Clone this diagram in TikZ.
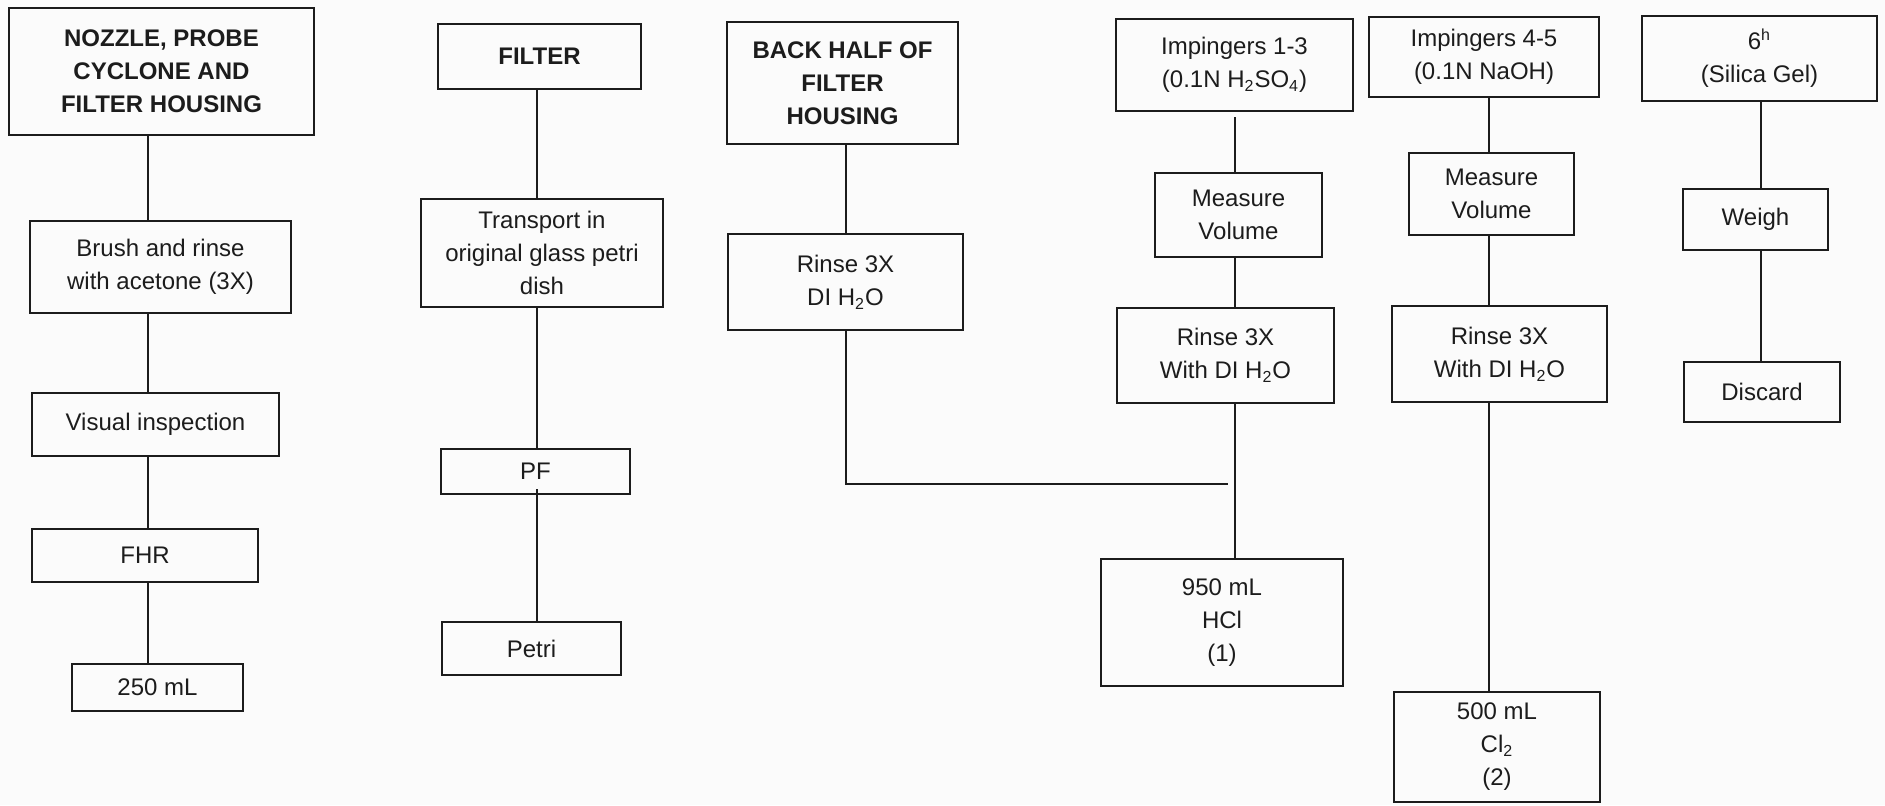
\documentclass[tikz,border=0pt]{standalone}
\usepackage{fontspec}
\setmainfont{Liberation Sans}
\definecolor{ink}{RGB}{28,28,28}
\definecolor{paper}{RGB}{251,251,251}
\begin{document}
\begin{tikzpicture}[x=0.5pt,y=-0.5pt,
  box/.style={draw=ink, line width=1.35pt, inner sep=0pt, align=center,
              text=ink, font=\fontsize{12}{16.5}\selectfont},
  head/.style={box, font=\fontsize{12}{16.5}\selectfont\bfseries},
  link/.style={draw=ink, line width=0.65pt},
  heavylink/.style={draw=ink, line width=1.05pt}]
\fill[paper] (0,0) rectangle (1885,805);
\useasboundingbox (0,0) rectangle (1885,805);

% column axes for the vertical connectors
\coordinate (c1) at (148,0);
\coordinate (c2) at (537,0);
\coordinate (c3) at (846,0);
\coordinate (c4) at (1235,0);
\coordinate (c5) at (1489,0);
\coordinate (c6) at (1761,0);
\coordinate (join) at (1228,484);

% nozzle, probe, cyclone and filter housing
\node[head, minimum width=152.5pt, minimum height=63.5pt] (nozzle) at (161.5,71.5) {NOZZLE, PROBE\\CYCLONE AND\\FILTER HOUSING};
\node[box, minimum width=130.5pt, minimum height=46pt] (brush) at (160.5,267) {Brush and rinse\\with acetone (3X)};
\node[box, minimum width=123.5pt, minimum height=31.5pt] (visual) at (155.5,424.5) {Visual inspection};
\node[box, minimum width=113pt, minimum height=26.5pt] (fhr) at (145,555.5) {FHR};
\node[box, minimum width=85.5pt, minimum height=23.5pt] (ml250) at (157.5,687.5) {250 mL};

% filter
\node[head, minimum width=101.5pt, minimum height=32.5pt] (filter) at (539.5,56.5) {FILTER};
\node[box, minimum width=121pt, minimum height=54pt] (transport) at (542,253) {Transport in\\original glass petri\\dish};
\node[box, minimum width=94.5pt, minimum height=22.5pt] (pf) at (535.5,471.5) {PF};
\node[box, minimum width=89.5pt, minimum height=26.5pt] (petri) at (531.5,648.5) {Petri};

% back half of filter housing
\node[head, minimum width=115.5pt, minimum height=61pt] (backhalf) at (842.5,83) {BACK HALF OF\\FILTER\\HOUSING};
\node[box, minimum width=117.5pt, minimum height=48pt] (rinsedi) at (845.5,282) {Rinse 3X\\DI H\textsubscript{2}O};

% impingers 1-3
\node[box, minimum width=118.5pt, minimum height=46pt] (imp13) at (1234.5,65) {Impingers 1-3\\(0.1N H\textsubscript{2}SO\textsubscript{4})};
\node[box, minimum width=83.5pt, minimum height=42pt] (meas1) at (1238.5,215) {Measure\\Volume};
\node[box, minimum width=108.5pt, minimum height=47.5pt] (rinse1) at (1225.5,355.5) {Rinse 3X\\With DI H\textsubscript{2}O};
\node[box, minimum width=121pt, minimum height=63.5pt] (ml950) at (1222,622.5) {950 mL\\HCl\\(1)};

% impingers 4-5
\node[box, minimum width=115pt, minimum height=40pt] (imp45) at (1484,57) {Impingers 4-5\\(0.1N NaOH)};
\node[box, minimum width=82.5pt, minimum height=41pt] (meas2) at (1491.5,194) {Measure\\Volume};
\node[box, minimum width=107.5pt, minimum height=48pt] (rinse2) at (1499.5,354) {Rinse 3X\\With DI H\textsubscript{2}O};
\node[box, minimum width=103pt, minimum height=55pt] (ml500) at (1497,747) {500 mL\\Cl\textsubscript{2}\\(2)};

% sixth impinger
\node[box, minimum width=117.5pt, minimum height=42.5pt] (sixth) at (1759.5,58.5) {6\textsuperscript{h}\\(Silica Gel)};
\node[box, minimum width=72.5pt, minimum height=30.5pt] (weigh) at (1755.5,219.5) {Weigh};
\node[box, minimum width=78pt, minimum height=30pt] (discard) at (1762,392) {Discard};

% connectors
\draw[link] (nozzle.south -| c1) -- (brush.north -| c1);
\draw[link] (brush.south -| c1) -- (visual.north -| c1);
\draw[link] (visual.south -| c1) -- (fhr.north -| c1);
\draw[link] (fhr.south -| c1) -- (ml250.north -| c1);

\draw[link] (filter.south -| c2) -- (transport.north -| c2);
\draw[link] (transport.south -| c2) -- (pf.north -| c2);
\path (pf.south -| c2) coordinate (pfb);
\draw[heavylink] ([yshift=3pt]pfb) -- (petri.north -| c2);

\draw[link] (backhalf.south -| c3) -- (rinsedi.north -| c3);
\draw[link] (rinsedi.south -| c3) |- (join);

\path (imp13.south -| c4) coordinate (i13b);
\draw[link] ([yshift=-2.5pt]i13b) -- (meas1.north -| c4);
\draw[link] (meas1.south -| c4) -- (rinse1.north -| c4);
\draw[link] (rinse1.south -| c4) -- (ml950.north -| c4);

\draw[link] (imp45.south -| c5) -- (meas2.north -| c5);
\draw[link] (meas2.south -| c5) -- (rinse2.north -| c5);
\draw[link] (rinse2.south -| c5) -- (ml500.north -| c5);

\draw[link] (sixth.south -| c6) -- (weigh.north -| c6);
\draw[link] (weigh.south -| c6) -- (discard.north -| c6);
\end{tikzpicture}
\end{document}
